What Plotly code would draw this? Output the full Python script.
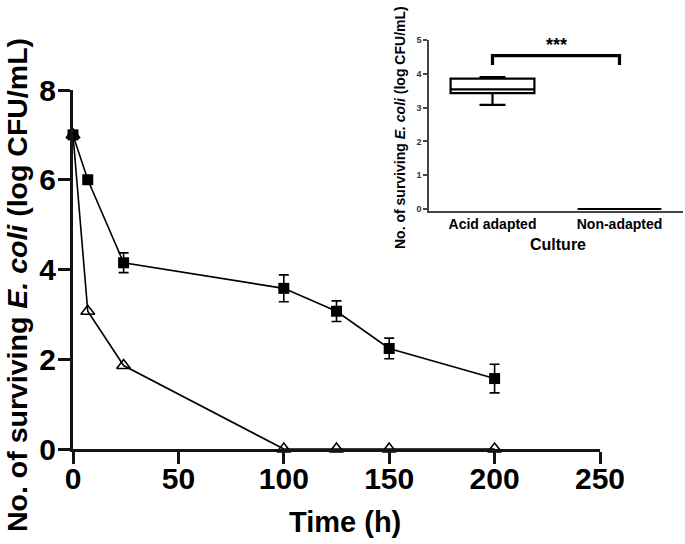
import plotly.graph_objects as go

# ---- main chart data ----
time_h = [0, 7, 24, 100, 125, 150, 200]
acid_adapted = [7.0, 6.0, 4.15, 3.58, 3.07, 2.24, 1.57]
acid_adapted_err = [0, 0, 0.22, 0.30, 0.23, 0.23, 0.32]
non_adapted = [7.0, 3.07, 1.86, 0, 0, 0, 0]
x_ticks = [0, 50, 100, 150, 200, 250]
y_ticks = [0, 2, 4, 6, 8]

# ---- inset box plot data ----
cultures = ["Acid adapted", "Non-adapted"]
box_q1 = [3.43, 0.0]
box_median = [3.54, 0.0]
box_q3 = [3.86, 0.0]
box_low = [3.08, 0.0]
box_high = [3.90, 0.0]
inset_y_ticks = [0, 1, 2, 3, 4, 5]
bracket_y = [4.26, 4.54, 4.54, 4.26]

W, H = 685, 544
ML, MR, MT, MB = 73, 2, 20, 95
PW, PH = W - ML - MR, H - MT - MB

def px_x(p):
    return (p - ML) / PW

def px_y(p):
    return (H - MB - p) / PH

AXIS_COLOR = "#141414"

fig = go.Figure()

fig.add_trace(go.Scatter(
    x=time_h, y=acid_adapted, mode="lines+markers", name="Acid adapted",
    line=dict(color="black", width=1.6),
    marker=dict(symbol="square", size=11, color="black"),
    error_y=dict(type="data", array=acid_adapted_err, color="black", thickness=1.6, width=5),
    cliponaxis=False, xaxis="x", yaxis="y"))

fig.add_trace(go.Scatter(
    x=time_h, y=non_adapted, mode="lines+markers", name="Non-adapted",
    line=dict(color="black", width=1.6),
    marker=dict(symbol="triangle-up-open", size=12, color="black", line=dict(width=1.6)),
    cliponaxis=False, xaxis="x", yaxis="y"))

fig.add_trace(go.Box(
    x=cultures, q1=box_q1, median=box_median, q3=box_q3,
    lowerfence=box_low, upperfence=box_high,
    fillcolor="white", line=dict(color="black", width=2.2),
    width=0.66, whiskerwidth=0.31, boxpoints=False,
    xaxis="x2", yaxis="y2", showlegend=False))

fig.add_trace(go.Scatter(
    x=[cultures[0], cultures[0], cultures[1], cultures[1]], y=bracket_y,
    mode="lines", line=dict(color="black", width=3.2),
    xaxis="x2", yaxis="y2", showlegend=False, cliponaxis=False))

tickfont = dict(family="Liberation Sans Narrow, Arial Narrow, Arial", size=30, color="#000000", weight=700)

fig.update_layout(
    template="none",
    width=W, height=H, autosize=False,
    margin=dict(l=ML, r=MR, t=MT, b=MB, autoexpand=False),
    paper_bgcolor="white", plot_bgcolor="rgba(0,0,0,0)",
    showlegend=False,
    xaxis=dict(domain=[0, px_x(600)], range=[0, 250], tickmode="array", tickvals=x_ticks,
               showline=True, linecolor=AXIS_COLOR, linewidth=3,
               ticks="outside", ticklen=12, tickwidth=3, tickcolor=AXIS_COLOR,
               ticklabelstandoff=-11,
               tickfont=tickfont, showgrid=False, zeroline=False, anchor="y", automargin=False),
    yaxis=dict(domain=[0, px_y(90)], range=[0, 8], tickmode="array", tickvals=y_ticks,
               showline=True, linecolor=AXIS_COLOR, linewidth=3,
               ticks="outside", ticklen=12, tickwidth=3, tickcolor=AXIS_COLOR,
               ticklabelstandoff=-4,
               tickfont=tickfont, showgrid=False, zeroline=False, anchor="x", automargin=False),
    xaxis2=dict(domain=[px_x(429), 1.0], range=[-0.5, 1.5], type="category",
                showline=True, linecolor="#444", linewidth=1.5, ticks="", layer="below traces",
                tickfont=dict(family="Liberation Sans, Arial", size=14, color="black", weight=700),
                showgrid=False, zeroline=False, anchor="y2", automargin=False),
    yaxis2=dict(domain=[px_y(210.7), px_y(40)], range=[-0.05, 5], tickvals=inset_y_ticks,
                showline=True, linecolor="#444", linewidth=1.5,
                ticks="outside", ticklen=4, tickwidth=1.5, tickcolor="#444",
                tickfont=dict(family="Liberation Sans, Arial", size=9, color="#333", weight=700),
                showgrid=False, zeroline=False, anchor="x2", automargin=False),
)

titlefont = dict(family="Liberation Sans, Arial", color="black", weight=700)
fig.add_annotation(text="Time (h)", xref="paper", yref="paper", x=px_x(345), y=px_y(522),
                   showarrow=False, font=dict(size=29, **titlefont), xanchor="center", yanchor="middle")
fig.add_annotation(text="No. of surviving <i>E. coli</i> (log CFU/mL)", xref="paper", yref="paper",
                   x=px_x(17), y=px_y(285), textangle=-90, showarrow=False,
                   font=dict(size=28.5, **titlefont), xanchor="center", yanchor="middle")
fig.add_annotation(text="Culture", xref="paper", yref="paper", x=px_x(558), y=px_y(244),
                   showarrow=False, font=dict(size=16, **titlefont), xanchor="center", yanchor="middle")
fig.add_annotation(text="No. of surviving <i>E. coli</i> (log CFU/mL)", xref="paper", yref="paper",
                   x=px_x(400), y=px_y(128), textangle=-90, showarrow=False,
                   font=dict(size=14, **titlefont), xanchor="center", yanchor="middle")
fig.add_annotation(text="***", xref="x2", yref="y2", x=0.5, y=4.85,
                   showarrow=False, font=dict(size=18, **titlefont), xanchor="center", yanchor="middle")

fig.write_html("out.html", config={"displayModeBar": False})

with open("out.html", "r", encoding="utf-8") as f:
    html = f.read()
html = html.replace("<head>", "<head><style>html,body{margin:0;padding:0;overflow:hidden;}</style>", 1)
with open("out.html", "w", encoding="utf-8") as f:
    f.write(html)
